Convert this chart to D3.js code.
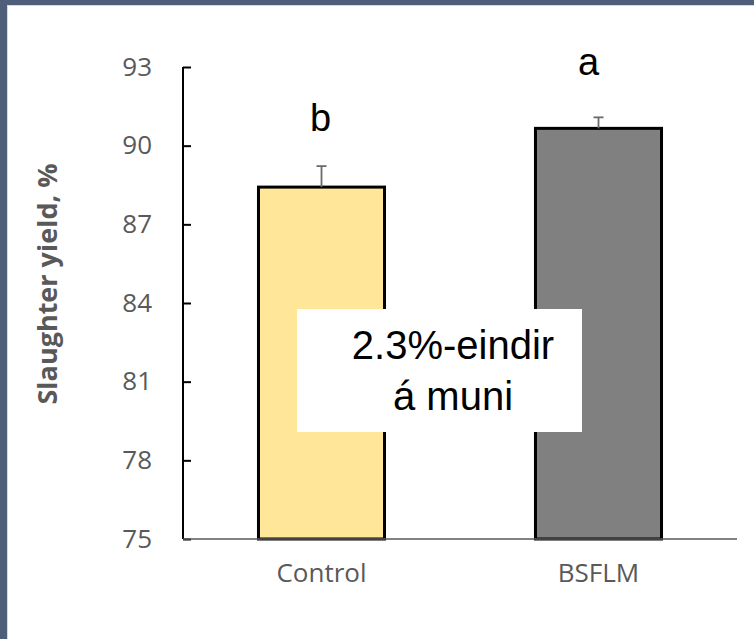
<!DOCTYPE html>
<html>
<head>
<meta charset="utf-8">
<script src="https://cdn.jsdelivr.net/npm/d3@7"></script>
<style>
  html, body { margin: 0; padding: 0; background: #fff; }
  svg { display: block; }
</style>
</head>
<body>
<div id="chart"></div>
<script>
// data
var groups = ["Control", "BSFLM"];
var means = [88.42, 90.66];
var errors = [0.8, 0.42];
var letters = ["b", "a"];
var yTicks = [75, 78, 81, 84, 87, 90, 93];
var fills = ["#ffe699", "#808080"];
var note = ["2.3%-eindir", "á muni"];

var W = 754, H = 639;
var svg = d3.select("#chart").append("svg")
    .attr("width", W).attr("height", H);

// frame (left + top border)
svg.append("rect").attr("x", 0).attr("y", 0).attr("width", W).attr("height", H)
    .attr("fill", "#4f5f7a");
svg.append("rect").attr("x", 7).attr("y", 5).attr("width", W - 7).attr("height", H - 5)
    .attr("fill", "#d9d9d9");
svg.append("rect").attr("x", 8).attr("y", 6).attr("width", W - 8).attr("height", H - 6)
    .attr("fill", "#ffffff");

var x = d3.scaleBand().domain(groups).range([183, 737])
    .paddingInner(0.545).paddingOuter(0.2725);
var y = d3.scaleLinear().domain([75, 93]).range([539, 67]);

var g = svg.append("g");

// bars
g.selectAll("rect.bar").data(groups).enter().append("rect")
    .attr("class", "bar")
    .attr("x", function(d) { return x(d); })
    .attr("width", x.bandwidth())
    .attr("y", function(d, i) { return y(means[i]); })
    .attr("height", function(d, i) { return y(75) - y(means[i]); })
    .attr("fill", function(d, i) { return fills[i]; })
    .attr("stroke", "#000").attr("stroke-width", 3);

// error bars
groups.forEach(function(d, i) {
    var cx = x(d) + x.bandwidth() / 2;
    var top = y(means[i] + errors[i]);
    g.append("line").attr("x1", cx).attr("x2", cx)
        .attr("y1", y(means[i])).attr("y2", top)
        .attr("stroke", "#6b6b6b").attr("stroke-width", 1.8);
    g.append("line").attr("x1", cx - 5).attr("x2", cx + 5)
        .attr("y1", top).attr("y2", top)
        .attr("stroke", "#6b6b6b").attr("stroke-width", 1.8);
});

// significance letters
var letterShift = [{dx: -1, dy: 35}, {dx: -10, dy: 42}];
g.selectAll("text.sig").data(letters).enter().append("text")
    .attr("class", "sig")
    .attr("x", function(d, i) { return x(groups[i]) + x.bandwidth() / 2 + letterShift[i].dx; })
    .attr("y", function(d, i) { return y(means[i] + errors[i]) - letterShift[i].dy; })
    .attr("text-anchor", "middle")
    .attr("font-family", "Liberation Sans, Arial, sans-serif")
    .attr("font-size", 38)
    .attr("fill", "#000")
    .text(function(d) { return d; });

// y axis
var yAxis = d3.axisLeft(y).tickValues(yTicks).tickSize(-8).tickPadding(31);
var ya = g.append("g").attr("transform", "translate(183,0)").call(yAxis);
ya.select(".domain").attr("stroke", "#000").attr("stroke-width", 2)
    .attr("d", "M0," + y(93) + "V" + y(75));
ya.selectAll(".tick line").attr("stroke", "#000").attr("stroke-width", 2);
ya.selectAll(".tick text")
    .attr("font-family", "'Open Sans', sans-serif")
    .attr("font-size", 26)
    .attr("fill", "#595959");

// x axis
var xAxis = d3.axisBottom(x).tickSize(0).tickPadding(25);
var xa = g.append("g").attr("transform", "translate(0," + y(75) + ")").call(xAxis);
xa.select(".domain").attr("stroke", "#595959").attr("stroke-width", 1.5)
    .attr("d", "M183,0H737");
xa.selectAll(".tick text")
    .attr("font-family", "'Open Sans', sans-serif")
    .attr("font-size", 26)
    .attr("fill", "#595959");

// y axis title
svg.append("text")
    .attr("transform", "translate(57,284) rotate(-90)")
    .attr("text-anchor", "middle")
    .attr("font-family", "'Open Sans', sans-serif")
    .attr("font-weight", "bold")
    .attr("font-size", 27)
    .attr("fill", "#595959")
    .text("Slaughter yield, %");

// annotation box
svg.append("rect").attr("x", 297).attr("y", 309).attr("width", 285).attr("height", 123)
    .attr("fill", "#ffffff");
svg.selectAll("text.note").data(note).enter().append("text")
    .attr("class", "note")
    .attr("x", 453)
    .attr("y", function(d, i) { return 359 + i * 51; })
    .attr("text-anchor", "middle")
    .attr("font-family", "Liberation Sans, Arial, sans-serif")
    .attr("font-size", 40)
    .attr("fill", "#000")
    .text(function(d) { return d; });
</script>
</body>
</html>
